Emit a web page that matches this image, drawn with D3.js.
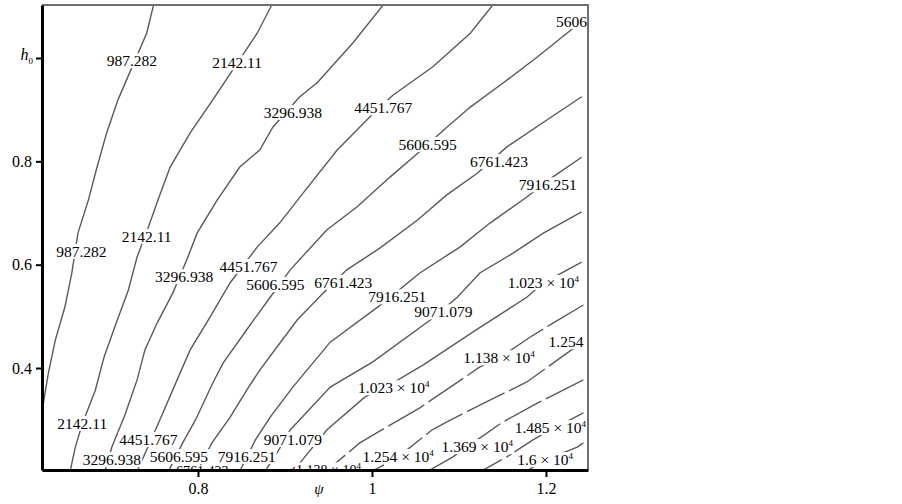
<!DOCTYPE html>
<html>
<head>
<meta charset="utf-8">
<script src="https://cdn.jsdelivr.net/npm/d3@7"></script>
<style>
body { margin: 0; background: #fff; }
svg text { font-family: "Liberation Serif", "Times New Roman", serif; }
</style>
</head>
<body>
<svg id="chart" width="902" height="504"></svg>
<script>
// contour levels, as printed on the labels (mantissa + power of ten)
var levelText = ['987.282', '2142.11', '3296.938', '4451.767', '5606.595', '6761.423', '7916.251',
    '9071.079', '1.023', '1.138', '1.254', '1.369', '1.485', '1.6'];
var levelExp = [0, 0, 0, 0, 0, 0, 0, 0, 4, 4, 4, 4, 4, 4];

// contour lines, points are [psi, h0]
var c987 = [[0.749,1.103],[0.741,1.048],[0.708,0.919],[0.695,0.855],[0.684,0.789],[0.674,0.725],[0.662,0.661],
    [0.655,0.584],[0.647,0.518],[0.636,0.454],[0.628,0.390],[0.621,0.319]];
var c2142 = [[0.885,1.103],[0.868,1.048],[0.817,0.919],[0.791,0.855],[0.768,0.789],[0.754,0.725],[0.743,0.673],
    [0.730,0.615],[0.720,0.551],[0.706,0.487],[0.692,0.421],[0.682,0.357],[0.667,0.292],[0.659,0.247],[0.653,0.200]];
var c3297 = [[1.013,1.103],[0.978,1.029],[0.937,0.952],[0.917,0.925],[0.886,0.866],[0.871,0.822],[0.848,0.789],
    [0.822,0.725],[0.799,0.661],[0.787,0.609],[0.771,0.545],[0.753,0.487],[0.739,0.435],[0.730,0.377],[0.716,0.309],
    [0.701,0.247],[0.693,0.200]];
var c4452 = [[1.139,1.103],[1.113,1.048],[1.070,0.983],[1.024,0.928],[1.000,0.890],[0.960,0.822],[0.921,0.739],
    [0.894,0.681],[0.868,0.634],[0.837,0.565],[0.814,0.499],[0.791,0.435],[0.776,0.377],[0.756,0.299],[0.730,0.200]];
var c5607 = [[1.243,1.073],[1.233,1.060],[1.190,1.002],[1.151,0.952],[1.113,0.905],[1.086,0.866],[1.053,0.816],
    [1.021,0.770],[0.983,0.712],[0.948,0.667],[0.906,0.590],[0.883,0.537],[0.856,0.474],[0.829,0.410],[0.817,0.371],
    [0.797,0.299],[0.783,0.257],[0.766,0.200]];
var c6761 = [[1.241,0.925],[1.201,0.880],[1.155,0.828],[1.121,0.777],[1.086,0.735],[1.052,0.686],[1.009,0.632],
    [0.971,0.590],[0.944,0.545],[0.914,0.493],[0.894,0.448],[0.871,0.396],[0.856,0.357],[0.837,0.305],[0.816,0.255],
    [0.799,0.199]];
var c7916 = [[1.241,0.808],[1.208,0.770],[1.178,0.731],[1.136,0.681],[1.101,0.634],[1.055,0.584],[1.013,0.526],
    [0.952,0.450],[0.909,0.363],[0.883,0.305],[0.866,0.261],[0.848,0.200]];
var c9071 = [[1.241,0.702],[1.197,0.661],[1.159,0.619],[1.124,0.584],[1.098,0.537],[1.067,0.493],[1.001,0.412],
    [0.952,0.363],[0.906,0.280],[0.891,0.236],[0.877,0.200]];
var c10230 = [[1.241,0.605],[1.197,0.565],[1.178,0.537],[1.118,0.472],[1.059,0.406],[1.026,0.373],[0.992,0.344],
    [0.948,0.280],[0.917,0.216],[0.906,0.200]];
var c11380 = [[1.243,0.522],[1.208,0.487],[1.182,0.460],[1.146,0.419],[1.124,0.402],[1.055,0.323],[1.001,0.270],
    [0.986,0.255],[0.952,0.207],[0.946,0.199]];
var c12540 = [[1.243,0.450],[1.231,0.437],[1.178,0.373],[1.124,0.328],[1.084,0.294],[1.069,0.280],[1.030,0.228],
    [1.009,0.208],[0.998,0.199]];
var c13690 = [[1.243,0.377],[1.190,0.332],[1.149,0.294],[1.121,0.261],[1.093,0.228],[1.063,0.199]];
var c14850 = [[1.243,0.313],[1.205,0.280],[1.185,0.261],[1.155,0.228],[1.124,0.199]];
var c16000 = [[1.243,0.255],[1.236,0.247],[1.199,0.222],[1.176,0.199]];

// where the labels sit: [level index, psi, h0]
var labelSpots = [
    [0,0.724,0.994],[0,0.666,0.625],
    [1,0.845,0.990],[1,0.741,0.654],[1,0.667,0.292],
    [2,0.909,0.894],[2,0.784,0.576],[2,0.701,0.222],
    [3,1.013,0.903],[3,0.858,0.596],[3,0.743,0.261],
    [4,1.064,0.832],[4,0.889,0.561],[4,0.778,0.228],[4,1.245,1.070],
    [5,1.146,0.799],[5,0.967,0.565],[5,0.805,0.200],
    [6,1.202,0.754],[6,1.029,0.537],[6,0.856,0.228],
    [7,1.082,0.508],[7,0.909,0.261],
    [8,1.197,0.565],[8,1.025,0.361],
    [9,1.146,0.419],[9,0.950,0.201],
    [10,1.030,0.228],[10,1.244,0.450],
    [11,1.121,0.247],
    [12,1.205,0.284],
    [13,1.199,0.222]
];

var xTicks = [0.8, 1, 1.2];
var yTicks = [0.4, 0.6, 0.8, 1];

var contours = [c987, c2142, c3297, c4452, c5607, c6761, c7916, c9071, c10230, c11380, c12540, c13690, c14850, c16000];

var svg = d3.select('#chart');
var plot = {l: 42, r: 588, t: 5, b: 470};

var x = d3.scaleLinear().domain([0.6207, 1.2483]).range([plot.l, plot.r]);
var y = d3.scaleLinear().domain([0.2026, 1.1026]).range([plot.b, plot.t]);

svg.append('defs').append('clipPath').attr('id', 'plotClip')
    .append('rect')
    .attr('x', plot.l).attr('y', plot.t)
    .attr('width', plot.r - plot.l).attr('height', plot.b - plot.t);

var inner = svg.append('g').attr('clip-path', 'url(#plotClip)');

var line = d3.line()
    .x(function(d) { return x(d[0]); })
    .y(function(d) { return y(d[1]); });

// contour lines
inner.selectAll('.contour')
    .data(contours)
    .enter().append('path')
    .attr('class', 'contour')
    .attr('d', line)
    .attr('fill', 'none')
    .attr('stroke', '#5a5a5a')
    .attr('stroke-width', 1.4)
    .attr('stroke-dasharray', function(d, i) { return i >= 9 ? '42 5' : null; });

// labels half hidden by the bottom axis go underneath the others
function onEdge(d) { return d[2] < 0.21; }
var ordered = labelSpots.filter(onEdge).concat(labelSpots.filter(function(d) { return !onEdge(d); }));

// labels with white backing that breaks the line under them
var labels = inner.selectAll('.clabel')
    .data(ordered)
    .enter().append('g')
    .attr('class', 'clabel')
    .attr('transform', function(d) { return 'translate(' + [x(d[1]), y(d[2])] + ')'; });

labels.append('text')
    .attr('text-anchor', 'middle')
    .attr('dy', '0.33em')
    .attr('font-size', function(d) { return onEdge(d) ? 14 : 15.5; })
    .attr('fill', '#000')
    .each(function(d) {
        var t = d3.select(this);
        var k = d[0];
        if (levelExp[k]) {
            t.append('tspan').text(levelText[k] + ' \u00d7 10');
            t.append('tspan').text(levelExp[k]).attr('font-size', 9).attr('dy', -6);
        } else {
            t.text(levelText[k]);
        }
    });

labels.each(function() {
    var g = d3.select(this);
    var bb = g.select('text').node().getBBox();
    g.insert('rect', 'text')
        .attr('x', bb.x - 1).attr('y', bb.y + 1)
        .attr('width', bb.width + 2).attr('height', bb.height - 2)
        .attr('fill', '#fff');
});

// frame (top and right)
svg.append('path')
    .attr('d', 'M' + plot.l + ',' + plot.t + 'H' + plot.r + 'V' + plot.b)
    .attr('fill', 'none')
    .attr('stroke', '#707070')
    .attr('stroke-width', 2);

// axes
var xAxis = d3.axisBottom(x).tickValues(xTicks).tickSize(7).tickPadding(6).tickSizeOuter(0)
    .tickFormat(function(d) { return String(d); });
var yAxis = d3.axisLeft(y).tickValues(yTicks).tickSize(6).tickPadding(4).tickSizeOuter(0)
    .tickFormat(function(d) { return d === 1 ? '' : String(d); });

var gx = svg.append('g')
    .attr('transform', 'translate(0,' + plot.b + ')')
    .call(xAxis);
var gy = svg.append('g')
    .attr('transform', 'translate(' + plot.l + ',0)')
    .call(yAxis);

[gx, gy].forEach(function(g) {
    g.attr('font-size', 16);
    g.select('.domain').attr('stroke', '#000').attr('stroke-width', 3);
    g.selectAll('.tick line').attr('stroke', '#000').attr('stroke-width', 2);
    g.selectAll('.tick text').attr('fill', '#000');
});

// axis names
var hLab = svg.append('text')
    .attr('x', 33).attr('y', y(1) + 2)
    .attr('text-anchor', 'end')
    .attr('font-size', 16)
    .attr('fill', '#000');
hLab.append('tspan').text('h').attr('font-style', 'italic');
hLab.append('tspan').text('0').attr('font-size', 9).attr('dy', 4);

svg.append('text')
    .attr('x', 319).attr('y', 494)
    .attr('text-anchor', 'middle')
    .attr('font-size', 15)
    .attr('font-style', 'italic')
    .attr('fill', '#000')
    .text('\u03c8');
</script>
</body>
</html>
